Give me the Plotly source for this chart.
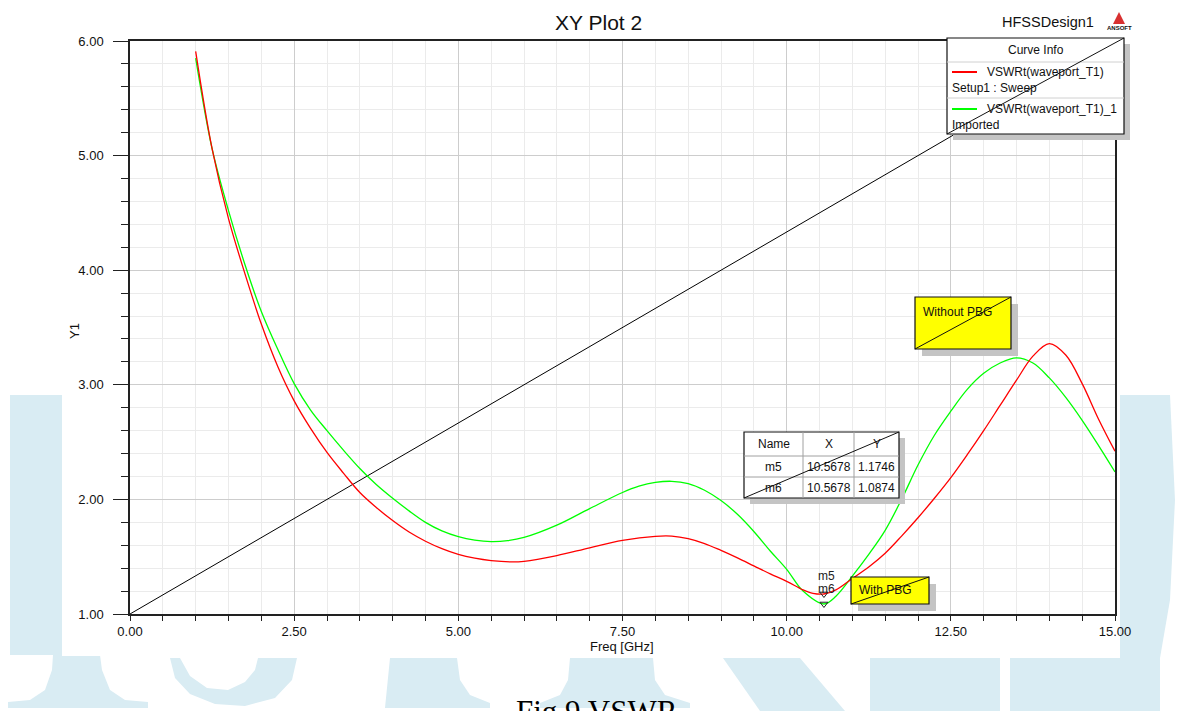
import plotly.graph_objects as go

# ---- data -------------------------------------------------------------
freq_sweep = [1.0, 1.25, 1.5, 1.75, 2.0, 2.25, 2.5, 2.75, 3.0, 3.25, 3.5, 3.75, 4.0,
              4.25, 4.5, 4.75, 5.0, 5.25, 5.5, 5.8, 6.0, 6.5, 7.0, 7.5, 8.0, 8.25, 8.5,
              8.75, 9.0, 9.25, 9.5, 9.75, 10.0, 10.25, 10.4, 10.5678, 10.75, 11.0,
              11.25, 11.5, 11.75, 12.0, 12.25, 12.5, 12.75, 13.0, 13.25, 13.5, 13.75,
              14.0, 14.25, 14.5, 14.75, 15.0]
vswr_sweep = [5.91, 5.06, 4.45, 3.97, 3.53, 3.16, 2.86, 2.62, 2.41, 2.23, 2.06, 1.93, 1.815,
              1.715, 1.635, 1.57, 1.52, 1.487, 1.466, 1.455, 1.46, 1.51, 1.578, 1.642, 1.678,
              1.68, 1.658, 1.615, 1.555, 1.49, 1.42, 1.35, 1.285, 1.21, 1.18, 1.1746, 1.21,
              1.31, 1.41, 1.53, 1.68, 1.84, 2.01, 2.19, 2.39, 2.60, 2.82, 3.04, 3.25,
              3.36, 3.26, 3.01, 2.70, 2.42]

freq_imported = [1.0, 1.25, 1.5, 1.75, 2.0, 2.25, 2.5, 2.75, 3.0, 3.25, 3.5, 3.75, 4.0,
                 4.25, 4.5, 4.75, 5.0, 5.25, 5.5, 5.75, 6.0, 6.5, 7.0, 7.5, 7.75, 8.0,
                 8.25, 8.5, 8.75, 9.0, 9.25, 9.5, 9.75, 10.0, 10.25, 10.5678, 10.75, 11.0,
                 11.25, 11.5, 11.75, 12.0, 12.25, 12.5, 12.75, 13.0, 13.25, 13.5, 13.75,
                 14.0, 14.25, 14.5, 14.75, 15.0]
vswr_imported = [5.85, 5.06, 4.52, 4.05, 3.64, 3.31, 3.01, 2.78, 2.60, 2.43, 2.27, 2.13, 2.01,
                 1.90, 1.80, 1.725, 1.675, 1.645, 1.632, 1.64, 1.668, 1.775, 1.92, 2.06,
                 2.115, 2.148, 2.158, 2.138, 2.08, 1.99, 1.87, 1.72, 1.55, 1.39, 1.20, 1.0874,
                 1.155, 1.33, 1.52, 1.73, 2.00, 2.30, 2.56, 2.77, 2.96, 3.10, 3.19, 3.235,
                 3.19, 3.06, 2.89, 2.69, 2.47, 2.24]

ref_x = [0.0, 15.0]
ref_y = [1.0, 6.0]

marker_names = ["m5", "m6"]
marker_x = [10.5678, 10.5678]
marker_y = [1.1746, 1.0874]

curve_names = ["VSWRt(waveport_T1)", "VSWRt(waveport_T1)_1"]
curve_sources = ["Setup1 : Sweep", "Imported"]
curve_colors = ["#ff0000", "#00ff00"]

x_tick_step = 2.5
y_tick_step = 1.0

# ---- page geometry (pixels) -------------------------------------------
W, H = 1194, 711
PL, PR, PT, PB = 130, 1115, 41, 614


def fx(p):
    return (p - PL) / (PR - PL)


def fy(p):
    return (PB - p) / (PB - PT)


FONT = "Liberation Sans, Arial, sans-serif"
WM = "#d9ecf3"

shapes = []
annotations = []


def path_px(points):
    d = "M " + " L ".join(f"{fx(x):.5f},{fy(y):.5f}" for x, y in points) + " Z"
    return d


# background watermark lettering
wm_polys = [
    # tall serif stem on the left
    [(10, 395), (62, 395), (62, 655), (100, 655), (102, 670), (110, 690), (125, 700),
     (148, 702), (148, 708), (8, 708), (8, 702), (30, 700), (45, 690), (52, 670),
     (53, 655), (10, 655)],
    # hooked bowl
    [(170, 658), (180, 658), (190, 676), (207, 688), (228, 690), (245, 682), (255, 670),
     (258, 658), (297, 658), (292, 680), (275, 698), (245, 706), (215, 704), (190, 694),
     (175, 678)],
    # stem foot
    [(390, 658), (457, 658), (460, 680), (470, 695), (490, 703), (490, 708), (385, 708)],
    # stem foot with two flares
    [(570, 658), (653, 658), (655, 680), (665, 695), (690, 703), (690, 708), (540, 708),
     (540, 703), (560, 695), (568, 680)],
    # diagonal stroke
    [(723, 658), (800, 658), (845, 711), (760, 711)],
    # right-hand block
    [(870, 658), (1000, 658), (1000, 711), (870, 711)],
    [(1010, 658), (1160, 658), (1160, 711), (1010, 711)],
    # curved letter at the right edge
    [(1120, 395), (1170, 395), (1175, 500), (1170, 600), (1160, 658), (1120, 658)],
]
for poly in wm_polys:
    shapes.append(dict(type="path", xref="paper", yref="paper", path=path_px(poly),
                       fillcolor=WM, line=dict(width=0), layer="below"))

# white sheet behind the chart
shapes.append(dict(type="rect", xref="paper", yref="paper", x0=fx(62), x1=fx(1120),
                   y0=fy(656), y1=fy(-5), fillcolor="white", line=dict(width=0),
                   layer="below"))


def boxed(x0, y0, x1, y1, fill, shadow=7):
    shapes.append(dict(type="rect", xref="paper", yref="paper",
                       x0=fx(x0 + shadow), x1=fx(x1 + shadow),
                       y0=fy(y1 + shadow), y1=fy(y0 + shadow),
                       fillcolor="#c4c4c4", line=dict(width=0), layer="above"))
    shapes.append(dict(type="rect", xref="paper", yref="paper",
                       x0=fx(x0), x1=fx(x1), y0=fy(y1), y1=fy(y0),
                       fillcolor=fill, line=dict(color="#111111", width=1.2),
                       layer="above"))


def diag(x0, y0, x1, y1):
    shapes.append(dict(type="line", xref="paper", yref="paper",
                       x0=fx(x0), y0=fy(y1), x1=fx(x1), y1=fy(y0),
                       line=dict(color="#111111", width=1), layer="above"))


def hline(x0, x1, y, color="#d0d0d0", width=1):
    shapes.append(dict(type="line", xref="paper", yref="paper",
                       x0=fx(x0), x1=fx(x1), y0=fy(y), y1=fy(y),
                       line=dict(color=color, width=width), layer="above"))


def vline(x, y0, y1, color="#a0a0a0", width=1):
    shapes.append(dict(type="line", xref="paper", yref="paper",
                       x0=fx(x), x1=fx(x), y0=fy(y0), y1=fy(y1),
                       line=dict(color=color, width=width), layer="above"))


def text(x, y, s, size=12, xanchor="left", color="#111111", family=FONT, angle=0):
    annotations.append(dict(xref="paper", yref="paper", x=fx(x), y=fy(y), text=s,
                            showarrow=False, xanchor=xanchor, yanchor="middle",
                            textangle=angle,
                            font=dict(family=family, size=size, color=color)))


# ---- curve info box ----------------------------------------------------
lx0, ly0, lx1, ly1 = 947, 38, 1124, 134
boxed(lx0, ly0, lx1, ly1, "white", shadow=6)
hline(lx0, lx1, 62)
hline(lx0, lx1, 98)
text((lx0 + lx1) / 2, 50, "Curve Info", xanchor="center")
for i, (name, src, col) in enumerate(zip(curve_names, curve_sources, curve_colors)):
    yy = 72 + i * 37
    hline(952, 977, yy, color=col, width=2)
    text(985, yy, name)
    text(950, yy + 16, src)
diag(lx0, ly0, lx1, ly1)

# ---- marker table ------------------------------------------------------
tx0, ty0, tx1, ty1 = 744, 432, 899, 498
boxed(tx0, ty0, tx1, ty1, "white", shadow=6)
col_edges = [tx0, 803, 854, tx1]
row_edges = [ty0, 456, 477, ty1]
for c in col_edges[1:-1]:
    vline(c, ty0, ty1)
for r in row_edges[1:-1]:
    hline(tx0, tx1, r, color="#a0a0a0")
header = ["Name", "X", "Y"]
for j, h in enumerate(header):
    text((col_edges[j] + col_edges[j + 1]) / 2, 444, h, xanchor="center")
for i, (nm, mx, my) in enumerate(zip(marker_names, marker_x, marker_y)):
    yy = (row_edges[i + 1] + row_edges[i + 2]) / 2
    for j, s in enumerate([nm, f"{mx:.4f}", f"{my:.4f}"]):
        text((col_edges[j] + col_edges[j + 1]) / 2, yy, s, xanchor="center")
diag(tx0, ty0, tx1, ty1)

# ---- note boxes --------------------------------------------------------
boxed(915, 297, 1011, 349, "#ffff00", shadow=7)
text(921, 312, "Without PBG")
diag(915, 297, 1011, 349)

boxed(851, 577, 929, 604, "#ffff00", shadow=7)
text(857, 590, "With PBG")
diag(851, 577, 929, 604)

# ---- headings and axis titles -------------------------------------------
text(598, 22, "XY Plot 2", size=21, xanchor="center")
text(1048, 22, "HFSSDesign1", size=14.5, xanchor="center")
text(622, 646, "Freq [GHz]", size=13, xanchor="center")
text(74, 331, "Y1", size=13, xanchor="center", angle=-90)
# small logo mark
shapes.append(dict(type="path", xref="paper", yref="paper",
                   path=path_px([(1119, 12), (1125, 24), (1113, 24)]),
                   fillcolor="#d83030", line=dict(width=0), layer="above"))
text(1119, 28, "<b>ANSOFT</b>", size=6, xanchor="center")
text(597, 711, "Fig.9 VSWR", size=31, xanchor="center", color="#000000",
     family="Liberation Serif, Times New Roman, serif")

# ---- traces --------------------------------------------------------------
fig = go.Figure()
fig.add_trace(go.Scatter(x=ref_x, y=ref_y, mode="lines",
                         line=dict(color="#000000", width=1), hoverinfo="skip"))
fig.add_trace(go.Scatter(x=freq_imported, y=vswr_imported, mode="lines",
                         name=curve_names[1],
                         line=dict(color=curve_colors[1], width=1.3, shape="spline",
                                   smoothing=1.0)))
fig.add_trace(go.Scatter(x=freq_sweep, y=vswr_sweep, mode="lines",
                         name=curve_names[0],
                         line=dict(color=curve_colors[0], width=1.3, shape="spline",
                                   smoothing=1.0)))
fig.add_trace(go.Scatter(x=marker_x, y=marker_y, mode="markers",
                         marker=dict(symbol="triangle-down-open", size=7,
                                     color="#222222", line=dict(width=1))))
for nm, mx, my, dy in zip(marker_names, marker_x, marker_y, [18, 15]):
    annotations.append(dict(x=mx, y=my, xref="x", yref="y", text=nm, showarrow=False,
                            yshift=dy, xshift=3,
                            font=dict(family=FONT, size=12, color="#222222")))

axis_common = dict(showline=True, linecolor="#222222", linewidth=1.5, mirror=True,
                   ticks="outside", tickcolor="#222222", tickformat=".2f",
                   tickfont=dict(family=FONT, size=13, color="#111111"),
                   gridcolor="#cdcdcd", gridwidth=1, zeroline=False)

fig.update_layout(
    width=W, height=H,
    margin=dict(l=PL, r=W - PR, t=PT, b=H - PB),
    paper_bgcolor="white", plot_bgcolor="rgba(0,0,0,0)",
    showlegend=False,
    shapes=shapes, annotations=annotations,
    xaxis=dict(range=[0, 15], tick0=0, dtick=x_tick_step, ticklen=5,
               minor=dict(dtick=0.5, tick0=0, ticks="outside", ticklen=5,
                          tickcolor="#222222", showgrid=True, gridcolor="#ebebeb"),
               **axis_common),
    yaxis=dict(range=[1, 6], tick0=0, dtick=y_tick_step, ticklen=15,
               ticklabelstandoff=7,
               minor=dict(dtick=0.2, tick0=0, ticks="outside", ticklen=7,
                          tickcolor="#222222", showgrid=True, gridcolor="#ebebeb"),
               **axis_common),
)

fig.write_html("out.html")
